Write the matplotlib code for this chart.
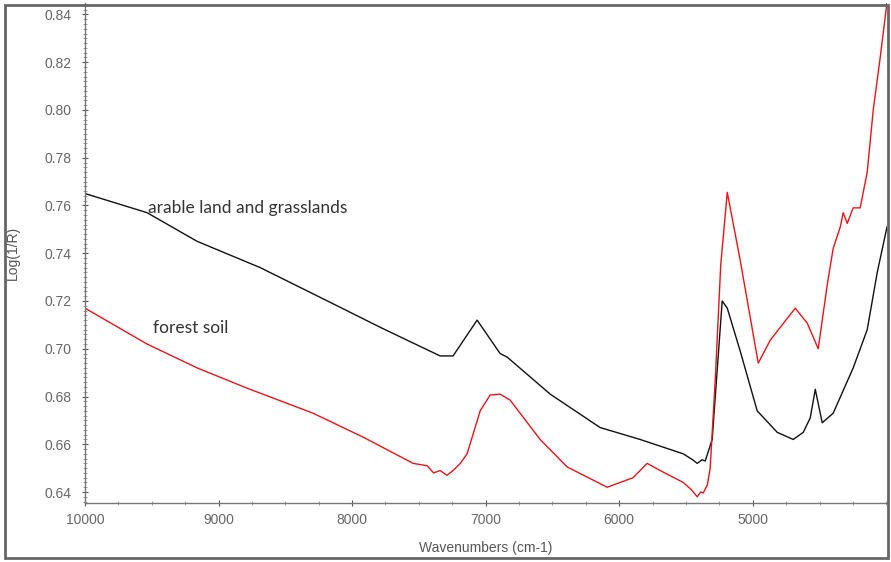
import matplotlib.pyplot as plt
from matplotlib.patches import Rectangle
from matplotlib.ticker import MultipleLocator

# wavenumber (cm-1) / log(1/R) readings for the two soil spectra
arable_wn = [10000, 9536, 9161, 8689, 8292, 7790, 7641, 7341, 7244, 7064,
             6892, 6839, 6517, 6143, 5843, 5521, 5450, 5416, 5380, 5356,
             5304, 5229, 5191, 5094, 4967, 4817, 4697, 4622, 4570, 4532,
             4480, 4398, 4248, 4143, 4068, 3995]
arable_val = [0.765, 0.757, 0.745, 0.734, 0.723, 0.709, 0.705, 0.697, 0.697, 0.712,
              0.698, 0.6965, 0.681, 0.667, 0.662, 0.656, 0.6535, 0.652, 0.6535, 0.653,
              0.662, 0.720, 0.717, 0.699, 0.674, 0.665, 0.662, 0.665, 0.671, 0.683,
              0.669, 0.673, 0.692, 0.708, 0.732, 0.751]

forest_wn = [10000, 9536, 9161, 8787, 8292, 7918, 7543, 7438, 7390, 7341,
             7290, 7244, 7190, 7139, 7041, 6967, 6892, 6817, 6592, 6390,
             6090, 5896, 5791, 5693, 5521, 5460, 5416, 5390, 5371, 5340,
             5319, 5281, 5240, 5191, 5094, 4959, 4869, 4682, 4592, 4510,
             4442, 4398, 4345, 4323, 4293, 4248, 4196, 4143, 4098, 4046, 3995]
forest_val = [0.717, 0.702, 0.692, 0.6835, 0.673, 0.663, 0.652, 0.651, 0.648, 0.649,
              0.647, 0.649, 0.652, 0.656, 0.674, 0.6806, 0.681, 0.6785, 0.662, 0.6505,
              0.642, 0.646, 0.652, 0.649, 0.644, 0.641, 0.638, 0.640, 0.6396, 0.643,
              0.650, 0.687, 0.735, 0.7655, 0.737, 0.694, 0.7036, 0.717, 0.7107, 0.700,
              0.727, 0.742, 0.751, 0.757, 0.7525, 0.759, 0.759, 0.774, 0.800, 0.822, 0.845]

y_ticks = [0.64, 0.66, 0.68, 0.70, 0.72, 0.74, 0.76, 0.78, 0.80, 0.82, 0.84]
x_ticks = [10000, 9000, 8000, 7000, 6000, 5000]

fig = plt.figure(figsize=(8.91, 5.62), dpi=100)
ax = fig.add_axes([85/891, 1-503/562, (887-85)/891, (503-3)/562])

ax.plot(arable_wn, arable_val, color='#111111', lw=1.0)
ax.plot(forest_wn, forest_val, color='#e8141a', lw=1.0)

ax.text(9528, 0.7588, 'arable land and grasslands', fontsize=12.5,
        family='Lato', color='#333333', va='center')
ax.text(9491, 0.7086, 'forest soil', fontsize=12.5,
        family='Lato', color='#333333', va='center')

ax.set_xlim(10000, 3995)
ax.set_ylim(0.6354, 0.8448)
ax.set_xticks(x_ticks)
ax.set_yticks(y_ticks)
ax.set_yticklabels(['%.2f' % v for v in y_ticks])
ax.xaxis.set_minor_locator(MultipleLocator(250))
ax.yaxis.set_minor_locator(MultipleLocator(0.002))

for s in ['top', 'right']:
    ax.spines[s].set_visible(False)
for s in ['left', 'bottom']:
    ax.spines[s].set_color('#777777')
    ax.spines[s].set_linewidth(1.0)

ax.tick_params(which='major', direction='inout', length=5, width=0.8,
               color='#555555', labelcolor='#666666', labelsize=10,
               labelfontfamily='Liberation Sans')
ax.tick_params(which='minor', direction='inout', length=3, width=0.6,
               color='#888888')
ax.tick_params(axis='y', pad=7)
ax.tick_params(axis='x', pad=5)

ax.set_xlabel('Wavenumbers (cm-1)', fontsize=10, color='#555555',
              family='Liberation Sans', labelpad=10)
ax.set_ylabel('Log(1/R)', fontsize=10, color='#555555',
              family='Liberation Sans', labelpad=18)

# grey frame around the whole figure
fig.patches.append(Rectangle((5/891, 4/562), 883/891, 553/562, fill=False,
                             edgecolor='#666666', lw=2, transform=fig.transFigure))

fig.savefig('out.png', dpi=100)
